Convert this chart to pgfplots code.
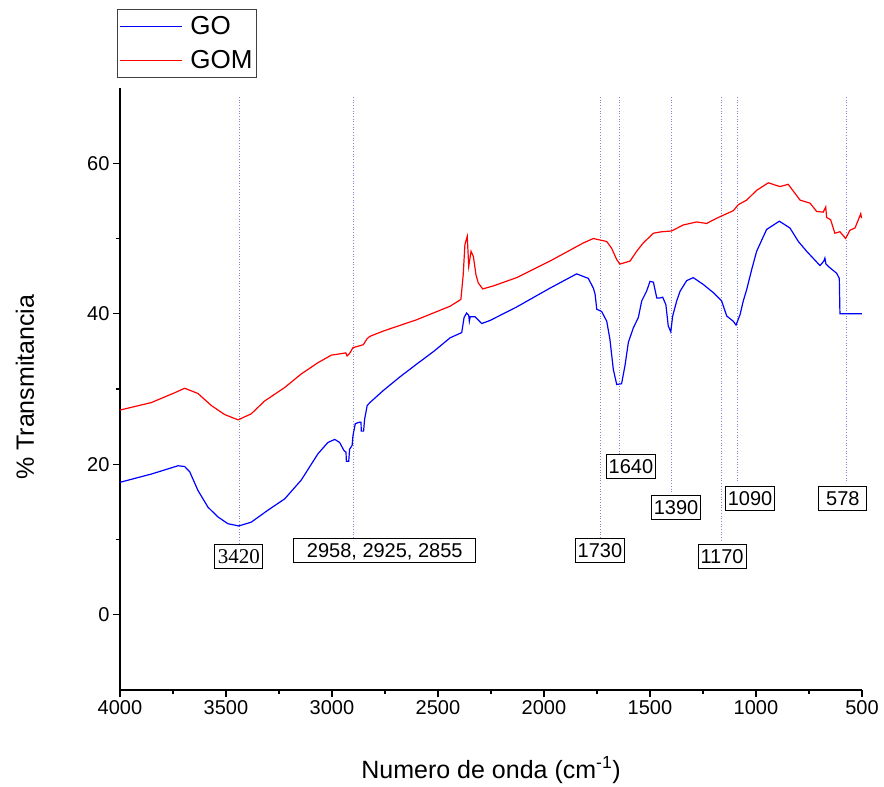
\documentclass[border=0pt]{standalone}
\usepackage{fontspec}
\setmainfont{Liberation Sans}
\newfontfamily\timesnum{Liberation Serif}
\usepackage{pgfplots}
\pgfplotsset{compat=1.18}

\definecolor{markline}{rgb}{0.52,0.52,0.84}

\tikzset{peak/.style={draw=black, line width=0.9pt, fill=white, font=\fontsize{20}{24}\selectfont,
  text height=14pt, text depth=0pt, inner ysep=5pt, inner xsep=2pt, minimum width=48pt}}

\begin{document}
\begin{tikzpicture}
\begin{axis}[
  at={(0pt,0pt)}, anchor=south west,
  scale only axis, width=742pt, height=602pt,
  x dir=reverse,
  xmin=500, xmax=4000, ymin=-10, ymax=70,
  axis x line*=bottom, axis y line*=left,
  xtick={500,1000,...,4000}, ytick={0,20,40,60},
  minor x tick num=1, minor y tick num=1,
  tick align=outside, major tick length=7pt, minor tick length=4pt,
  axis line style={line width=1.2pt},
  every tick/.style={black, line width=1.2pt},
  tick label style={font=\fontsize{20}{24}\selectfont},
  /pgf/number format/assume math mode=true,
  /pgf/number format/1000 sep={},
  xlabel={Numero de onda (cm\textsuperscript{-1})},
  ylabel={\% Transmitancia},
  label style={font=\fontsize{25}{30}\selectfont},
  xlabel style={at={(rel axis cs:0.5,-0.133)}, anchor=center},
  ylabel style={at={(rel axis cs:-0.128,0.503)}, anchor=center},
  legend style={at={(rel axis cs:-0.004,1.131)}, anchor=north west,
    draw=black!75, line width=0.8pt, font=\fontsize{26}{30}\selectfont,
    inner xsep=2pt, inner ysep=2pt, row sep=4pt,
    nodes={text height=22pt, text depth=6pt, inner ysep=1pt}},
  legend cell align=left,
  legend image code/.code={\draw[#1, line width=1pt] (0pt,0pt) -- (62pt,0pt);},
  clip=false,
]
% marker lines
\foreach \w/\b in {3439/9.5, 2900/10.3, 1733/10.2, 1645/21.3, 1401/16.1, 1165/9.9, 1090/17.5, 572/17.7}{
  \edef\tmp{\noexpand\draw[markline, dotted, line width=0.7pt] (axis cs:\w,68.8) -- (axis cs:\w,\b);}
  \tmp
}

\addplot[blue, line width=1.2pt] coordinates {
(4000,17.6) (3852,18.7) (3726,19.8) (3695,19.7) (3671,19.0) (3632,16.5) (3585,14.3)
(3538,13.0) (3491,12.1) (3440,11.8) (3381,12.3) (3302,13.9) (3223,15.4) (3145,17.9)
(3066,21.4) (3019,22.9) (2987,23.3) (2964,22.9) (2943,21.8) (2934,21.6) (2932,20.4)
(2921,20.4) (2917,22.0) (2905,22.5) (2901,23.8) (2890,25.4) (2869,25.6) (2863,25.6)
(2862,24.4) (2851,24.4) (2846,26.0) (2834,27.8) (2821,28.2) (2758,29.8) (2680,31.6)
(2601,33.3) (2520,35.0)
(2443,36.8) (2388,37.5) (2377,39.5) (2365,40.1) (2355,39.8) (2352,39.0) (2348,39.6)
(2325,39.6) (2294,38.7) (2255,39.1) (2129,40.9) (1972,43.4) (1846,45.3) (1791,44.7)
(1767,43.4) (1759,42.6) (1751,40.6) (1728,40.3) (1704,39.0) (1689,36.6) (1673,32.6)
(1657,30.6) (1634,30.7) (1618,33.1) (1602,36.2) (1579,38.1) (1555,39.5) (1539,41.7)
(1516,43.0) (1500,44.3) (1484,44.2) (1468,42.1) (1453,42.1) (1440,42.2) (1425,41.2)
(1414,38.4) (1402,37.6) (1393,39.7) (1374,41.7) (1358,43.0) (1327,44.4) (1296,44.8)
(1249,43.9) (1201,42.8) (1162,41.7) (1138,39.7) (1107,39.0) (1094,38.5) (1075,39.9)
(1060,41.7) (1044,43.2) (1020,45.9) (997,48.3) (950,51.2) (890,52.3) (840,51.4)
(800,49.6) (761,48.3) (698,46.4) (680,47.0) (675,47.4) (670,46.6) (651,46.1)
(620,45.4) (607,44.7) (604,40.0) (500,40.0)
};
\addlegendentry{\hspace{6pt}GO}

\addplot[red, line width=1.2pt] coordinates {
(4000,27.2) (3852,28.2) (3742,29.5) (3695,30.1) (3632,29.4) (3569,27.8) (3506,26.6)
(3443,25.9) (3381,26.7) (3318,28.4) (3223,30.2) (3145,32.0) (3066,33.5) (3003,34.5)
(2956,34.7) (2935,34.8) (2929,34.4) (2915,34.8) (2901,35.5) (2862,35.8) (2852,35.9)
(2834,36.7) (2821,37.0) (2758,37.7) (2601,39.2) (2443,41.0) (2392,41.9) (2381,45.2)
(2373,49.2) (2362,50.3) (2358,48.0) (2355,46.3) (2344,48.3) (2333,47.6) (2321,45.2)
(2310,44.1) (2289,43.3) (2239,43.7) (2129,44.8) (1972,47.0) (1815,49.4) (1767,50.0)
(1704,49.6) (1681,48.7) (1657,47.2) (1642,46.6) (1594,47.0) (1563,48.3) (1532,49.4)
(1484,50.7) (1445,50.9) (1398,51.0) (1343,51.8) (1280,52.2) (1233,52.0) (1185,52.7)
(1138,53.3) (1107,53.7) (1083,54.5) (1044,55.1) (997,56.4) (942,57.4) (887,56.9)
(848,57.2) (792,55.1) (745,54.7) (714,53.6) (683,53.5) (671,54.2) (667,52.8)
(648,52.5) (628,50.7) (604,50.9) (577,50.0) (557,51.1) (533,51.4) (517,52.5)
(506,53.3) (502,52.7)
};
\addlegendentry{\hspace{6pt}GOM}

% peak labels
\node[peak, font=\timesnum\fontsize{21}{24}\selectfont] at (axis cs:3439,7.8) {3420};
\node[peak, inner xsep=13pt] at (axis cs:2751,8.6) {2958, 2925, 2855};
\node[peak] at (axis cs:1736,8.6) {1730};
\node[peak] at (axis cs:1590,19.7) {1640};
\node[peak] at (axis cs:1377,14.3) {1390};
\node[peak] at (axis cs:1160,7.8) {1170};
\node[peak] at (axis cs:1028,15.5) {1090};
\node[peak] at (axis cs:590,15.5) {578};
\end{axis}
\path (-120pt,-96pt) rectangle (764pt,690pt);
\end{tikzpicture}
\end{document}
